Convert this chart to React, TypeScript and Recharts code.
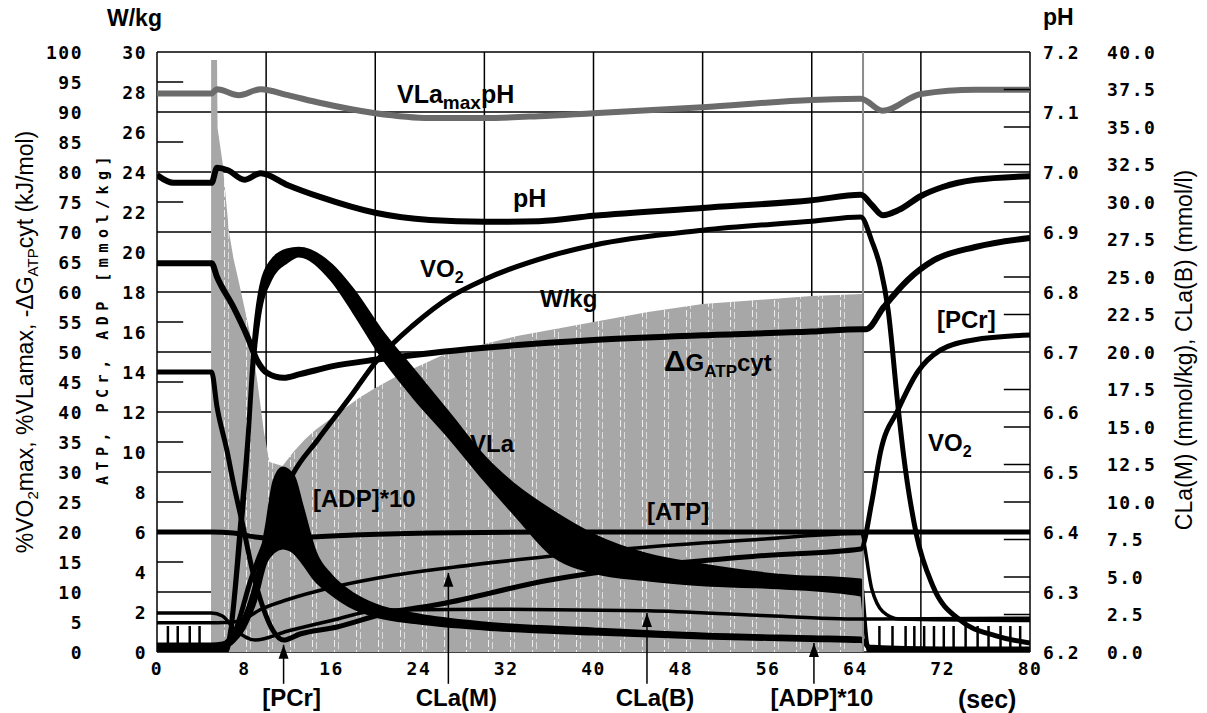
import {
  ComposedChart,
  Line,
  Area,
  XAxis,
  YAxis,
  CartesianGrid,
  ReferenceLine,
  ReferenceDot,
} from 'recharts'

type Pt = [number, number]
type Band = [number, number, number]

// ── Axes ──────────────────────────────────────────────────────────────────────

const TIME_TICKS = [0, 8, 16, 24, 32, 40, 48, 56, 64, 72, 80]
const TIME_GRID = [0, 10, 20, 30, 40, 50, 60, 70, 80]
const PCT_TICKS = [0, 5, 10, 15, 20, 25, 30, 35, 40, 45, 50, 55, 60, 65, 70, 75, 80, 85, 90, 95, 100]
const PCT_GRID = [0, 10, 20, 30, 40, 50, 60, 70, 80, 90, 100]
const PCT_MINOR = [5, 15, 25, 35, 45, 55, 65, 75, 85, 95]
const MMOL_TICKS = [0, 2, 4, 6, 8, 10, 12, 14, 16, 18, 20, 22, 24, 26, 28, 30]
const PH_TICKS = [6.2, 6.3, 6.4, 6.5, 6.6, 6.7, 6.8, 6.9, 7.0, 7.1, 7.2]
const CLA_TICKS = [0, 2.5, 5, 7.5, 10, 12.5, 15, 17.5, 20, 22.5, 25, 27.5, 30, 32.5, 35, 37.5, 40]
const CLA_MINOR = [2.5, 5, 7.5, 10, 12.5, 15, 17.5, 22.5, 25, 27.5, 30, 32.5, 35, 37.5]

// ── Series (t in sec) ─────────────────────────────────────────────────────────

// pH units
const VLAMAX_PH: Pt[] = [
  [0, 7.131], [5, 7.131], [5.5, 7.138], [7.5, 7.128], [9.5, 7.138], [12, 7.128],
  [15, 7.115], [20, 7.098], [25, 7.09], [30, 7.09], [35, 7.093], [40, 7.098],
  [50, 7.108], [60, 7.12], [64.5, 7.122], [66.5, 7.102], [70, 7.13], [75, 7.137], [80, 7.137],
]

const PH: Pt[] = [
  [0, 6.995], [1.5, 6.982], [5, 6.982], [5.5, 7.007], [6.5, 7.003], [8, 6.987], [9.5, 6.998],
  [12, 6.978], [15, 6.958], [20, 6.932], [25, 6.92], [30, 6.917], [35, 6.918], [40, 6.927],
  [50, 6.94], [60, 6.953], [64.5, 6.962], [65.5, 6.945], [66.5, 6.928], [68, 6.937],
  [70, 6.96], [72, 6.975], [75, 6.987], [80, 6.993],
]

// % of max / kJ/mol
const VO2: Pt[] = [
  [0, 1], [5, 1], [6, 1.2], [6.7, 1.5], [7.6, 5.8], [8.5, 11.5], [10.1, 19.2], [12.5, 29.8],
  [14.7, 35.3], [17.7, 42.5], [20.2, 48.7], [23.5, 54.5], [26.9, 59.2], [29.9, 62], [36, 66],
  [40, 67.8], [50, 70.3], [60, 71.8], [64.5, 72.5], [65.5, 68.5], [66.3, 64], [67, 57],
  [67.9, 41], [68.4, 33], [69.6, 19.5], [71.1, 11], [73.6, 5.3], [76.9, 2.7], [80, 1.5],
]

const DELTA_G: Pt[] = [
  [0, 64.8], [5, 64.8], [5.5, 62.5], [7, 57.5], [8.3, 52.5], [9.2, 48.5], [10.1, 46.5],
  [11.6, 45.7], [13.1, 46.3], [16, 47.6], [20, 48.7], [25, 49.8], [30, 50.7], [40, 52],
  [50, 52.8], [60, 53.4], [64.5, 53.8], [65, 53.8], [66.6, 57.5], [68.8, 62], [71.2, 65.3],
  [75, 67.5], [80, 69],
]

const VLA: Band[] = [
  [0, 0, 0.3], [5.5, 0, 0.5], [6.4, 0, 1.5], [7.6, 17, 22], [8.3, 32, 37], [8.8, 46, 51],
  [9.4, 56, 60], [10.4, 62, 65], [11.9, 65, 67], [13, 66, 67.3], [16, 62, 64.5],
  [18, 56.7, 60.3], [20.5, 49.5, 53.7], [23.5, 42.5, 47], [27, 35.3, 39.2], [30, 28.7, 32.5],
  [33, 22.5, 27.5], [36, 16.5, 23.7], [40, 13.3, 19.5], [45, 12, 16.2], [50, 11.2, 14.5],
  [57, 10.7, 12.8], [64.5, 9.5, 12], [65.2, 0, 1], [80, 0, 0.3],
]

// mmol/kg
const PCR: Pt[] = [
  [0, 14], [5, 14], [5.5, 12.25], [6.4, 10.1], [7, 8.45], [7.9, 6.25], [8.8, 3.95],
  [9.7, 2.25], [10.6, 1.1], [11.6, 0.6], [13.1, 0.9], [16.5, 1.25], [20.7, 1.9], [26, 2.4],
  [36, 3.6], [45, 4.3], [55, 4.8], [64.5, 5.15], [65.5, 7.5], [66.3, 10], [67.9, 12.1],
  [69.7, 14], [71.8, 15.1], [74.8, 15.6], [80, 15.85],
]

const ATP: Pt[] = [
  [0, 6], [5, 6], [7, 5.95], [9, 5.75], [11.5, 5.65], [14, 5.75], [18, 5.85], [25, 5.95],
  [35, 6], [64.5, 6], [80, 6],
]

const ADP_X10: Band[] = [
  [0, 0.2, 0.4], [5, 0.2, 0.4], [6, 0.2, 0.45], [7, 0.5, 0.9], [8, 1.2, 1.8], [9, 2.5, 3.5],
  [10, 4.5, 6.2], [10.7, 5, 8.5], [11.5, 5.2, 9.2], [12.5, 5, 8.8], [13.3, 4.5, 7.3],
  [14.5, 3.6, 5], [16, 2.9, 3.8], [18, 2.2, 2.9], [20, 1.8, 2.35], [24, 1.45, 1.85],
  [30, 1.15, 1.45], [40, 0.9, 1.15], [50, 0.7, 0.9], [60, 0.58, 0.76], [64.5, 0.52, 0.7],
  [65.5, 0.05, 0.2], [80, 0.05, 0.2],
]

// mmol/kg (muscle), mmol/l (blood)
const CLA_M: Pt[] = [
  [0, 1.95], [5.5, 1.95], [7, 2], [8, 2.2], [9.4, 2.8], [12, 3.5], [16, 4.3], [20, 4.9],
  [26.6, 5.6], [35, 6.3], [45, 7], [55, 7.5], [64.5, 7.9], [65.5, 4.2], [66.5, 2.7],
  [68, 2.2], [80, 2.1],
]

const CLA_B: Pt[] = [
  [0, 2.6], [5, 2.6], [6, 2.4], [7, 1.6], [9, 0.8], [12, 1.4], [16, 2.1], [20.5, 2.8],
  [30, 2.85], [45, 2.75], [55, 2.45], [64.5, 2.2], [66, 2.2], [80, 2.25],
]

// W/kg during the all-out bout
const WKG_EXERCISE: Pt[] = [
  [4.95, 0], [4.96, 29.6], [5.5, 29.6], [5.55, 26.2], [6, 24.5], [6.6, 21], [7, 19.7],
  [7.5, 18.5], [8.5, 16], [9.2, 13.5], [9.8, 11], [10.3, 9.5], [11.5, 9.3], [12.5, 10],
  [13.5, 10.6], [14.5, 11.1], [15.5, 11.5], [17, 12.1], [18.5, 12.7], [20, 13.2], [22, 13.8],
  [24, 14.3], [26, 14.8], [28, 15.1], [30, 15.4], [33, 15.8], [36, 16.1], [40, 16.5],
  [45, 17], [50, 17.4], [55, 17.6], [60, 17.8], [64.6, 17.9], [64.65, 0],
]

// single pedal strokes at rest and in recovery (W/kg)
const REST_STROKES = [1.0, 1.9, 3.0, 3.9]
const RECOVERY_STROKES = [66.2, 67.4, 68.6, 69.4, 70.3, 71.2, 72.1, 73.0, 74.1, 75.2, 76.2, 77.3, 78.2, 79.1]
const REST_SPAN: Pt = [0, 4.95]
const RECOVERY_SPAN: Pt = [65.3, 80]
const STROKE_PEAK = 1.3
const REST_BASE = 0.25
const RECOVERY_BASE = 0.1

const EXERCISE_END = 64.7

const ARROW_TIMES = [11.6, 26.7, 44.9, 60.2]
const ARROW_TIPS = [1.2, 13.2, 6.5, 1.5]
const ARROW_NAMES = ['[PCr]', 'CLa(M)', 'CLa(B)', '[ADP]*10']

// ── Helpers ───────────────────────────────────────────────────────────────────

const MONO = '"DejaVu Sans Mono", "Liberation Mono", monospace'
const SANS = '"Liberation Sans", Arial, sans-serif'

const toRows = (pts: Pt[]) => pts.map(([t, v]) => ({ t, v }))
const toBand = (pts: Band[]) => pts.map(([t, lo, hi]) => ({ t, v: [lo, hi] }))

function strokeRows(times: number[], span: Pt, base: number, peak: number) {
  const rows = [{ t: span[0], v: base }]
  times.forEach((t) => {
    rows.push({ t, v: base }, { t, v: peak }, { t, v: base })
  })
  rows.push({ t: span[1], v: base })
  return rows
}

const monoTick =
  (anchor: 'start' | 'middle' | 'end', dx: number, dy: number, fmt: (v: number) => string) =>
  (props: any) => (
    <text
      x={props.x + dx}
      y={props.y + dy}
      textAnchor={anchor}
      fontFamily={MONO}
      fontSize={18}
      fontWeight={700}
      letterSpacing={1.5}
      fill="#000"
    >
      {fmt(props.payload.value)}
    </text>
  )

const fixed1 = (v: number) => v.toFixed(1)
const plain = (v: number) => String(v)

const lineProps = {
  type: 'monotoneX' as const,
  dataKey: 'v',
  dot: false,
  isAnimationActive: false,
  activeDot: false,
}

const label = { fontFamily: SANS, fontWeight: 700, fontSize: 24, fill: '#000' }

// axis ids: "acidity" = pH (inner right), "lactate" = CLa (outer right)

// ── Component ─────────────────────────────────────────────────────────────────

export default function App() {
  return (
    <div style={{ position: 'absolute', left: 0, top: 0, width: 1207, height: 713, background: '#fff' }}>
      <ComposedChart width={1207} height={713} margin={{ top: 52, right: 32, bottom: 31, left: 0 }}>
        <defs>
          <pattern id="wkgStripes" width="22" height="10" patternUnits="userSpaceOnUse">
            <rect width="22" height="10" fill="#a7a7a7" />
            <line x1="4.5" y1="0" x2="4.5" y2="7" stroke="#ffffff" strokeWidth="1" strokeOpacity="0.8" />
            <line x1="8.5" y1="2" x2="8.5" y2="9" stroke="#ffffff" strokeWidth="1" strokeOpacity="0.6" />
          </pattern>
        </defs>

        <XAxis
          type="number"
          dataKey="t"
          domain={[0, 80]}
          ticks={TIME_TICKS}
          interval={0}
          height={30}
          axisLine={false}
          tickLine={false}
          tickSize={0}
          tickMargin={0}
          allowDataOverflow
          tick={monoTick('middle', 0, 23, plain)}
        />
        <YAxis
          yAxisId="mmol"
          orientation="left"
          width={70}
          domain={[0, 30]}
          ticks={MMOL_TICKS}
          interval={0}
          axisLine={false}
          tickLine={false}
          tickSize={0}
          tickMargin={10}
          allowDataOverflow
          tick={monoTick('end', 0, 6.5, plain)}
        />
        <YAxis
          yAxisId="pct"
          orientation="left"
          width={87}
          domain={[0, 100]}
          ticks={PCT_TICKS}
          interval={0}
          axisLine={false}
          tickLine={false}
          tickSize={0}
          tickMargin={4}
          allowDataOverflow
          tick={monoTick('end', 0, 6.5, plain)}
        />
        <YAxis
          yAxisId="acidity"
          orientation="right"
          width={70}
          domain={[6.2, 7.2]}
          ticks={PH_TICKS}
          interval={0}
          axisLine={false}
          tickLine={false}
          tickSize={0}
          tickMargin={13}
          allowDataOverflow
          tick={monoTick('start', 0, 6.5, fixed1)}
        />
        <YAxis
          yAxisId="lactate"
          orientation="right"
          width={75}
          domain={[0, 40]}
          ticks={CLA_TICKS}
          interval={0}
          axisLine={false}
          tickLine={false}
          tickSize={0}
          tickMargin={7}
          allowDataOverflow
          tick={monoTick('start', 0, 6.5, fixed1)}
        />

        <CartesianGrid
          yAxisId="pct"
          horizontalValues={PCT_GRID}
          verticalValues={TIME_GRID}
          stroke="#000"
          strokeWidth={1.5}
        />

        {/* power output */}
        <Area
          yAxisId="mmol"
          data={toRows(WKG_EXERCISE)}
          type="linear"
          dataKey="v"
          fill="url(#wkgStripes)"
          fillOpacity={1}
          stroke="none"
          isAnimationActive={false}
          activeDot={false}
        />
        <ReferenceLine yAxisId="pct" x={EXERCISE_END} stroke="#8c8c8c" strokeWidth={2} />
        <Line yAxisId="mmol" data={strokeRows(REST_STROKES, REST_SPAN, REST_BASE, STROKE_PEAK)} {...lineProps} type="linear" stroke="#000" strokeWidth={2.5} />
        <Line yAxisId="mmol" data={strokeRows(RECOVERY_STROKES, RECOVERY_SPAN, RECOVERY_BASE, STROKE_PEAK)} {...lineProps} type="linear" stroke="#000" strokeWidth={2.5} />

        {/* metabolites */}
        <Line yAxisId="lactate" data={toRows(CLA_B)} {...lineProps} stroke="#000" strokeWidth={3.5} />
        <Line yAxisId="lactate" data={toRows(CLA_M)} {...lineProps} stroke="#000" strokeWidth={3.5} />
        <Area yAxisId="mmol" data={toBand(ADP_X10)} type="monotoneX" dataKey="v" fill="#000" fillOpacity={1} stroke="#000" strokeWidth={3} isAnimationActive={false} activeDot={false} />
        <Line yAxisId="mmol" data={toRows(ATP)} {...lineProps} stroke="#000" strokeWidth={5} />
        <Line yAxisId="mmol" data={toRows(PCR)} {...lineProps} stroke="#000" strokeWidth={5} />
        <Area yAxisId="pct" data={toBand(VLA)} type="monotoneX" dataKey="v" fill="#000" fillOpacity={1} stroke="#000" strokeWidth={3} isAnimationActive={false} activeDot={false} />
        <Line yAxisId="pct" data={toRows(VO2)} {...lineProps} stroke="#000" strokeWidth={5} />
        <Line yAxisId="pct" data={toRows(DELTA_G)} {...lineProps} stroke="#000" strokeWidth={6} />
        <Line yAxisId="acidity" data={toRows(PH)} {...lineProps} stroke="#000" strokeWidth={6} />
        <Line yAxisId="acidity" data={toRows(VLAMAX_PH)} {...lineProps} stroke="#6b6b6b" strokeWidth={6} />

        {/* short inner ticks */}
        {PCT_MINOR.map((v) => (
          <ReferenceLine key={`pm${v}`} yAxisId="pct" segment={[{ x: 0, y: v }, { x: 2.4, y: v }]} stroke="#000" strokeWidth={1.5} />
        ))}
        {CLA_MINOR.map((v) => (
          <ReferenceLine key={`cm${v}`} yAxisId="lactate" segment={[{ x: 77.6, y: v }, { x: 80, y: v }]} stroke="#000" strokeWidth={1.5} />
        ))}

        {/* arrows below the time axis */}
        {ARROW_TIMES.map((t, i) => (
          <ReferenceLine
            key={`al${t}`}
            yAxisId="pct"
            segment={[{ x: t, y: -5.3 }, { x: t, y: ARROW_TIPS[i] }]}
            stroke="#000"
            strokeWidth={1.5}
            ifOverflow="visible"
          />
        ))}
        {ARROW_TIMES.map((t, i) => (
          <ReferenceDot
            key={`ah${t}`}
            yAxisId="pct"
            x={t}
            y={ARROW_TIPS[i]}
            ifOverflow="visible"
            shape={(p: any) => (
              <polygon points={`${p.cx},${p.cy} ${p.cx - 5},${p.cy + 14} ${p.cx + 5},${p.cy + 14}`} fill="#000" />
            )}
          />
        ))}
        {ARROW_TIMES.map((t, i) => (
          <ReferenceDot
            key={`an${t}`}
            yAxisId="pct"
            x={t}
            y={-9}
            ifOverflow="visible"
            shape={(p: any) => (
              <text x={p.cx + 8} y={p.cy} textAnchor="middle" {...label}>
                {ARROW_NAMES[i]}
              </text>
            )}
          />
        ))}
      </ComposedChart>

      <svg width={1207} height={713} style={{ position: 'absolute', left: 0, top: 0, pointerEvents: 'none' }}>
        {/* axis titles */}
        <text x={107} y={26} {...label} fontSize={23}>W/kg</text>
        <text x={1043} y={25} {...label} fontSize={23}>pH</text>
        <text x={958} y={708} {...label} fontSize={25}>(sec)</text>

        <text transform="translate(33,342) rotate(-90)" textAnchor="middle" fontFamily={SANS} fontSize={23} fill="#000">
          %VO<tspan fontSize={15} dy={5}>2</tspan>
          <tspan dy={-5}>max, %VLamax, -ΔG</tspan>
          <tspan fontSize={15} dy={5}>ATP</tspan>
          <tspan dy={-5}>cyt (kJ/mol)</tspan>
        </text>
        <text transform="translate(108,318) rotate(-90)" textAnchor="middle" fontFamily={MONO} fontWeight={700} fontSize={15} letterSpacing={5.5} fill="#000">
          ATP, PCr, ADP [mmol/kg]
        </text>
        <text transform="translate(1192,350) rotate(-90)" textAnchor="middle" fontFamily={SANS} fontSize={23} fill="#000">
          CLa(M) (mmol/kg), CLa(B) (mmol/l)
        </text>

        {/* curve names */}
        <text x={397} y={103} {...label} fontSize={25}>
          VLa<tspan fontSize={19} dy={6}>max</tspan>
          <tspan dy={-6}>pH</tspan>
        </text>
        <text x={513} y={207} {...label} fontSize={25}>pH</text>
        <text x={420} y={277} {...label}>
          VO<tspan fontSize={16} dy={6}>2</tspan>
        </text>
        <text x={540} y={307} {...label}>W/kg</text>
        <text x={937} y={328} {...label}>[PCr]</text>
        <text x={664} y={371} {...label}>
          <tspan fontSize={30}>Δ</tspan>G<tspan fontSize={17} dy={6}>ATP</tspan>
          <tspan dy={-6}>cyt</tspan>
        </text>
        <text x={470} y={452} {...label}>VLa</text>
        <text x={313} y={507} {...label}>[ADP]*10</text>
        <text x={647} y={520} {...label}>[ATP]</text>
        <text x={928} y={451} {...label}>
          VO<tspan fontSize={16} dy={6}>2</tspan>
        </text>
      </svg>
    </div>
  )
}
